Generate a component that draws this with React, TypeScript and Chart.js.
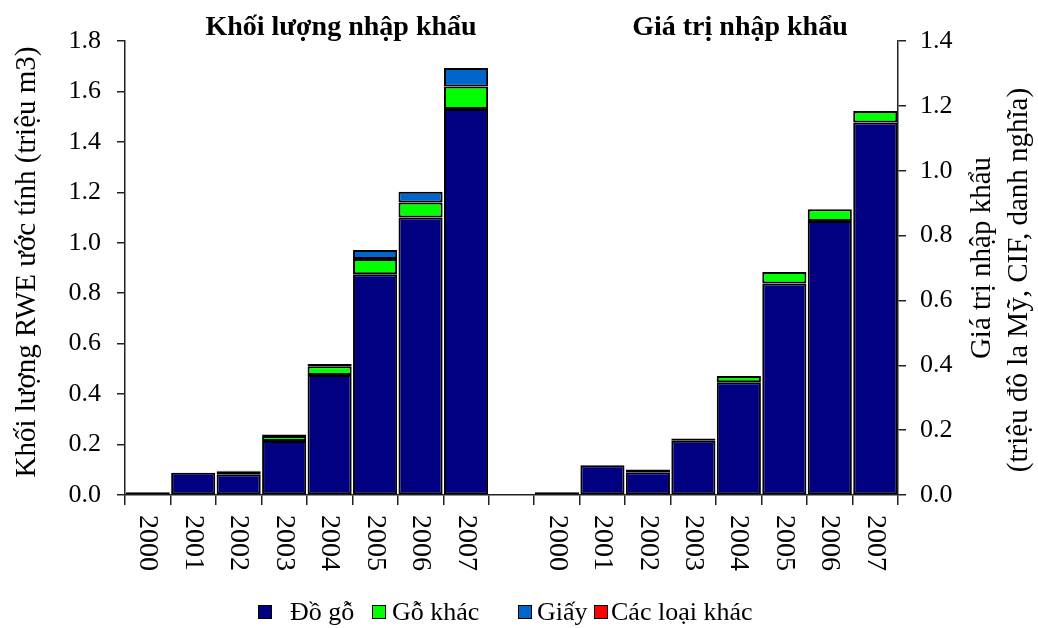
import React, { useEffect, useRef } from "react";
import { Chart, registerables } from "chart.js";

Chart.register(...registerables);

const years = ["2000", "2001", "2002", "2003", "2004", "2005", "2006", "2007"];
const seriesNames = ["Đồ gỗ", "Gỗ khác", "Giấy", "Các loại khác"];
const seriesColors = ["#000080", "#00FF00", "#0066CC", "#FF0000"];

// Khối lượng nhập khẩu (triệu m3 RWE)
const volDoGo = [0.008, 0.088, 0.082, 0.214, 0.476, 0.875, 1.1, 1.53];
const volGoKhac = [0.003, 0, 0.012, 0.02, 0.034, 0.061, 0.06, 0.09];
const volGiay = [0, 0, 0.002, 0.006, 0.009, 0.035, 0.042, 0.073];
const volKhac = [0, 0, 0, 0, 0, 0, 0, 0];

// Giá trị nhập khẩu (triệu đô la Mỹ)
const valDoGo = [0.007, 0.092, 0.07, 0.167, 0.348, 0.652, 0.845, 1.149];
const valGoKhac = [0.002, 0, 0.009, 0.007, 0.019, 0.036, 0.036, 0.035];
const valGiay = [0, 0, 0, 0, 0, 0, 0, 0];
const valKhac = [0, 0, 0, 0, 0, 0, 0, 0];

const leftTicks = ["0.0", "0.2", "0.4", "0.6", "0.8", "1.0", "1.2", "1.4", "1.6", "1.8"];
const rightTicks = ["0.0", "0.2", "0.4", "0.6", "0.8", "1.0", "1.2", "1.4"];

const titleLeft = "Khối lượng nhập khẩu";
const titleRight = "Giá trị nhập khẩu";
const yTitleLeft = "Khối lượng RWE ước tính (triệu m3)";
const yTitleRight1 = "Giá trị nhập khẩu";
const yTitleRight2 = "(triệu đô la Mỹ, CIF, danh nghĩa)";

const FONT = "'Liberation Serif', 'Times New Roman', serif";

const labels = [...years, "", ...years];
const gap = [null];
const nulls8 = years.map(() => null);

function leftData(arr: number[]) {
  return [...arr, ...gap, ...nulls8];
}
function rightData(arr: number[]) {
  return [...nulls8, ...gap, ...arr];
}

const volSeries = [volDoGo, volGoKhac, volGiay, volKhac];
const valSeries = [valDoGo, valGoKhac, valGiay, valKhac];

const textPlugin = {
  id: "textPlugin",
  afterDraw(chart: any) {
    const ctx = chart.ctx;
    const ca = chart.chartArea;
    const xs = chart.scales.x;
    ctx.save();
    ctx.fillStyle = "#000";
    // titles
    ctx.font = `bold 28px ${FONT}`;
    ctx.textAlign = "center";
    ctx.textBaseline = "middle";
    ctx.fillText(titleLeft, 341, 28);
    ctx.fillText(titleRight, 740, 28);

    // x labels rotated clockwise
    ctx.font = `28px ${FONT}`;
    labels.forEach((lab, i) => {
      if (!lab) return;
      const x = xs.getPixelForValue(i);
      ctx.save();
      ctx.translate(x, ca.bottom + 20);
      ctx.rotate(Math.PI / 2);
      ctx.textAlign = "left";
      ctx.textBaseline = "middle";
      ctx.fillText(lab, 0, 0);
      ctx.restore();
    });

    // y titles
    ctx.font = `29px ${FONT}`;
    ctx.save();
    ctx.translate(27, 262);
    ctx.rotate(-Math.PI / 2);
    ctx.textAlign = "center";
    ctx.textBaseline = "middle";
    ctx.fillText(yTitleLeft, 0, 0);
    ctx.restore();

    ctx.save();
    ctx.translate(982, 258);
    ctx.rotate(-Math.PI / 2);
    ctx.textAlign = "center";
    ctx.textBaseline = "middle";
    ctx.fillText(yTitleRight1, 0, 0);
    ctx.restore();

    ctx.save();
    ctx.translate(1019, 280);
    ctx.rotate(-Math.PI / 2);
    ctx.textAlign = "center";
    ctx.textBaseline = "middle";
    ctx.fillText(yTitleRight2, 0, 0);
    ctx.restore();

    // legend
    const boxes = [258, 372, 518, 594];
    const texts = [290, 392, 537, 611];
    ctx.font = `26px ${FONT}`;
    ctx.textAlign = "left";
    ctx.textBaseline = "middle";
    seriesNames.forEach((name, i) => {
      ctx.fillStyle = seriesColors[i];
      ctx.fillRect(boxes[i], 605, 14, 14);
      ctx.strokeStyle = "#000";
      ctx.lineWidth = 1;
      ctx.strokeRect(boxes[i] + 0.5, 605.5, 13, 13);
      ctx.fillStyle = "#000";
      ctx.fillText(name, texts[i], 613);
    });
    ctx.restore();
  },
};

export default function App() {
  const ref = useRef<HTMLCanvasElement | null>(null);
  useEffect(() => {
    if (!ref.current) return;
    const datasets: any[] = [];
    volSeries.forEach((arr, i) => {
      datasets.push({
        label: seriesNames[i],
        data: leftData(arr),
        backgroundColor: seriesColors[i],
        borderColor: "#000",
        borderWidth: 2,
        borderSkipped: false,
        yAxisID: "y",
        stack: "a",
      });
    });
    valSeries.forEach((arr, i) => {
      datasets.push({
        label: seriesNames[i] + " (giá trị)",
        data: rightData(arr),
        backgroundColor: seriesColors[i],
        borderColor: "#000",
        borderWidth: 2,
        borderSkipped: false,
        yAxisID: "y2",
        stack: "a",
      });
    });
    const tickFont = { family: FONT, size: 26 };
    const chart = new Chart(ref.current, {
      type: "bar",
      data: { labels, datasets },
      plugins: [textPlugin],
      options: {
        responsive: false,
        animation: false,
        layout: { padding: { top: 41, left: 0, right: 0, bottom: 0 } },
        datasets: { bar: { barPercentage: 0.97, categoryPercentage: 1.0 } },
        plugins: { legend: { display: false }, tooltip: { enabled: false } },
        scales: {
          x: {
            stacked: true,
            offset: true,
            grid: {
              display: true,
              drawOnChartArea: false,
              drawTicks: true,
              tickLength: 10,
              color: "#222",
              lineWidth: 1.5,
              offset: true,
            },
            border: { display: true, color: "#222", width: 1.5 },
            ticks: { display: false },
            afterFit: (s: any) => {
              s.height = 133;
            },
          },
          y: {
            position: "left",
            stacked: true,
            min: 0,
            max: 1.8,
            grid: { drawOnChartArea: false, tickLength: 8, color: "#222", lineWidth: 1.5 },
            border: { color: "#222", width: 1.5 },
            ticks: {
              stepSize: 0.2,
              color: "#000",
              font: tickFont,
              padding: 16,
              callback: (_v: any, i: number) => leftTicks[i],
            },
            afterFit: (s: any) => {
              s.width = 125;
            },
          },
          y2: {
            position: "right",
            stacked: true,
            min: 0,
            max: 1.4,
            grid: { drawOnChartArea: false, tickLength: 8, color: "#222", lineWidth: 1.5 },
            border: { color: "#222", width: 1.5 },
            ticks: {
              stepSize: 0.2,
              color: "#000",
              font: tickFont,
              padding: 14,
              callback: (_v: any, i: number) => rightTicks[i],
            },
            afterFit: (s: any) => {
              s.width = 140;
            },
          },
        },
      } as any,
    });
    return () => chart.destroy();
  }, []);
  return (
    <div style={{ position: "absolute", left: 0, top: 0, width: 1038, height: 628, background: "#fff" }}>
      <canvas ref={ref} width={1038} height={628} />
    </div>
  );
}
